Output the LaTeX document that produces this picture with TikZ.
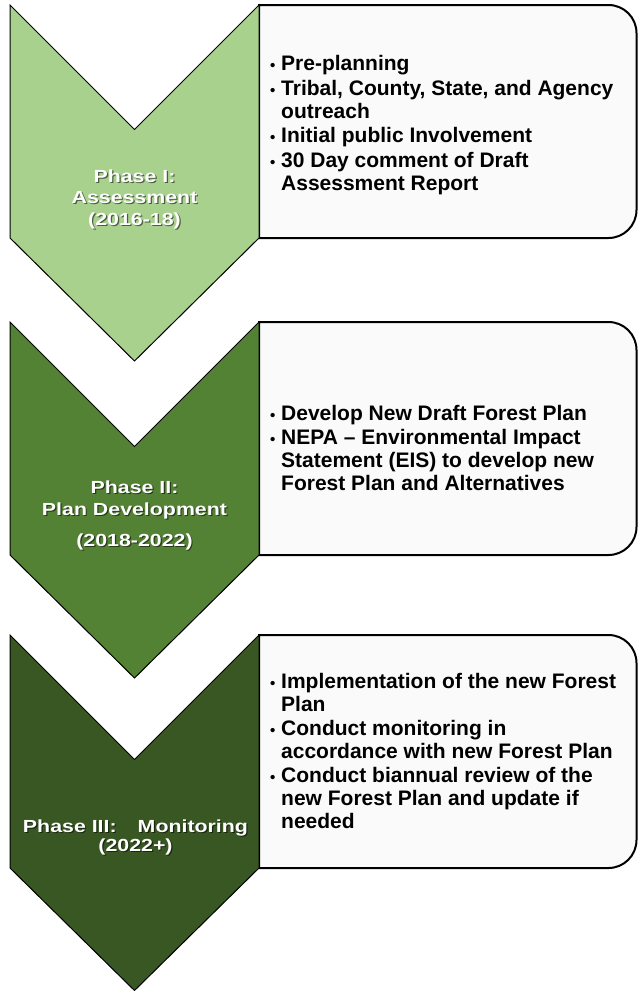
\documentclass[tikz,border=0pt]{standalone}
\usepackage{fontspec}
\setmainfont{Liberation Sans}
\newfontfamily\chevfont[FakeStretch=1.22]{Liberation Sans}

\definecolor{phaseone}{HTML}{A9D18E}
\definecolor{phasetwo}{HTML}{548235}
\definecolor{phasethree}{HTML}{385723}

\newcommand{\itm}{\makebox[11pt][l]{\fontsize{15}{15}\selectfont •}}
\newcommand{\ind}{\hspace*{11pt}}

\begin{document}
\begin{tikzpicture}[x=1pt, y=-1pt,
    chevron/.style={draw=black, line width=1pt, line join=miter},
    listbox/.style={draw=black, line width=2pt, fill=black!2},
    phasetext/.style={text=white, align=center, inner sep=0pt},
    phaseshadow/.style={phasetext, text=black, opacity=0.55},
    listtext/.style={anchor=west, align=left, inner sep=0pt,
        font=\bfseries\fontsize{21}{23}\selectfont}]

    \useasboundingbox (0,0) rectangle (638,991);

    % phase I
    \draw [listbox] (259,238) -- (259,5) -- (608.5,5) arc (-90:0:28) -- (636.5,210) arc (0:90:28) -- cycle;
    \draw [chevron, fill=phaseone] (10,5) -- (134.5,129.5) -- (259,5) -- (259,238) -- (134.5,361) -- (10,238) -- cycle;
    \node [phaseshadow, font=\chevfont\bfseries\fontsize{17.5}{21.5}\selectfont] (p1s) at (135.7,200.2) {Phase I:\\Assessment\\(2016-18)};
    \node [phasetext, font=\chevfont\bfseries\fontsize{17.5}{21.5}\selectfont] (p1) at (134.5,199) {Phase I:\\Assessment\\(2016-18)};
    \node [listtext] (l1) at (270,125) {\itm Pre-planning\\[1.5pt]
        \itm Tribal, County, State, and Agency\\
        \ind outreach\\[1.5pt]
        \itm Initial public Involvement\\[1.5pt]
        \itm 30 Day comment of Draft\\
        \ind Assessment Report};

    % phase II
    \draw [listbox] (259,555) -- (259,322) -- (608.5,322) arc (-90:0:28) -- (636.5,527) arc (0:90:28) -- cycle;
    \draw [chevron, fill=phasetwo] (10,322) -- (134.5,446.5) -- (259,322) -- (259,555) -- (134.5,678) -- (10,555) -- cycle;
    \node [phaseshadow, font=\chevfont\bfseries\fontsize{17.5}{21.5}\selectfont] (p2s) at (135.7,516.7) {Phase II:\\Plan Development\\[10pt](2018-2022)};
    \node [phasetext, font=\chevfont\bfseries\fontsize{17.5}{21.5}\selectfont] (p2) at (134.5,515.5) {Phase II:\\Plan Development\\[10pt](2018-2022)};
    \node [listtext] (l2) at (270,448) {\itm Develop New Draft Forest Plan\\[1.5pt]
        \itm NEPA -- Environmental Impact\\
        \ind Statement (EIS) to develop new\\
        \ind Forest Plan and Alternatives};

    % phase III
    \draw [listbox] (259,868) -- (259,635) -- (608.5,635) arc (-90:0:28) -- (636.5,840) arc (0:90:28) -- cycle;
    \draw [chevron, fill=phasethree] (10,635) -- (134.5,759.5) -- (259,635) -- (259,868) -- (134.5,990.5) -- (10,868) -- cycle;
    \node [phaseshadow, font=\chevfont\bfseries\fontsize{17.5}{19}\selectfont] (p3s) at (136.7,838.2) {Phase III:\hspace{21pt}Monitoring\\(2022+)};
    \node [phasetext, font=\chevfont\bfseries\fontsize{17.5}{19}\selectfont] (p3) at (135.5,837) {Phase III:\hspace{21pt}Monitoring\\(2022+)};
    \node [listtext] (l3) at (270,751) {\itm Implementation of the new Forest\\
        \ind Plan\\[1pt]
        \itm Conduct monitoring in\\
        \ind accordance with new Forest Plan\\[1pt]
        \itm Conduct biannual review of the\\
        \ind new Forest Plan and update if\\
        \ind needed};

\end{tikzpicture}
\end{document}
